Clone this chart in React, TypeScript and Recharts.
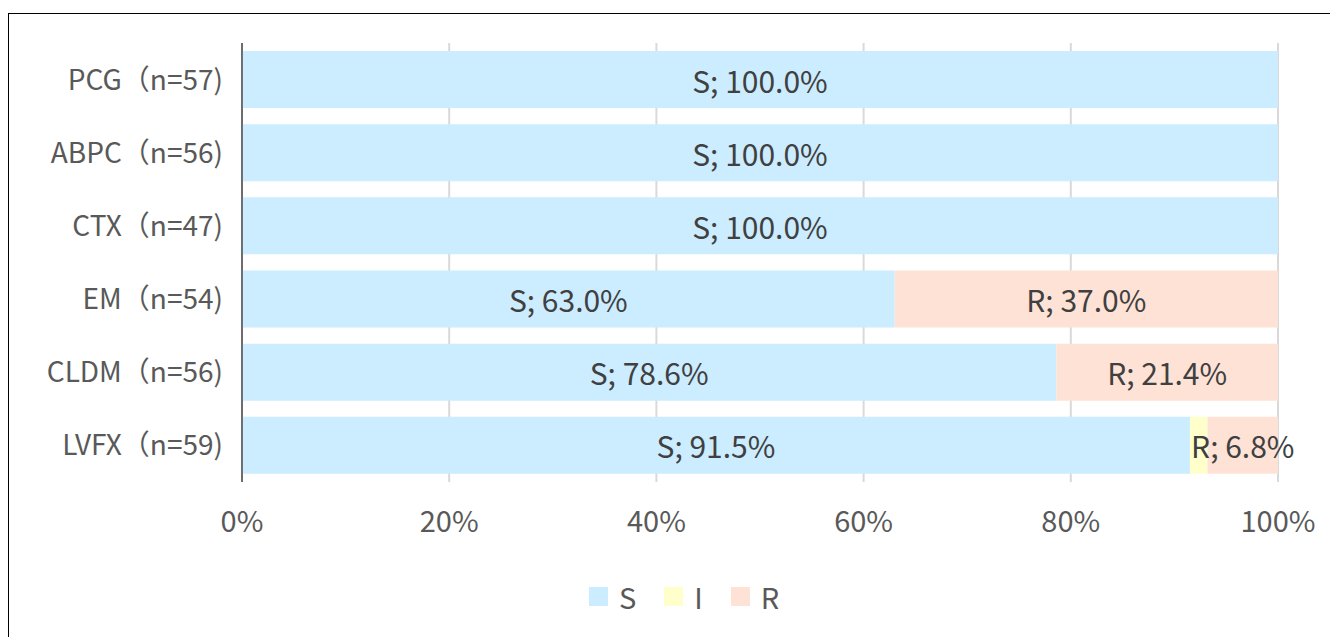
import React from 'react';
import { BarChart, Bar, XAxis, YAxis, CartesianGrid, Legend, LabelList } from 'recharts';

const categories = ['PCG（n=57)', 'ABPC（n=56)', 'CTX（n=47)', 'EM（n=54)', 'CLDM（n=56)', 'LVFX（n=59)'];
const sValues = [100.0, 100.0, 100.0, 63.0, 78.6, 91.5];
const iValues = [0, 0, 0, 0, 0, 1.7];
const rValues = [0, 0, 0, 37.0, 21.4, 6.8];
const xTicks = [0, 20, 40, 60, 80, 100];

const data = categories.map((name, i) => ({
  name,
  S: sValues[i],
  I: iValues[i],
  R: rValues[i],
}));

const FONT = '"Noto Sans CJK JP", "Noto Sans", sans-serif';
const TEXT = '#595959';

const makeLabel = (prefix: string) => (props: any) => {
  const { x, y, width, height, value } = props;
  if (!value) return null;
  return (
    <text
      x={x + width / 2}
      y={y + height / 2}
      textAnchor="middle"
      dominantBaseline="central"
      fill="#404040"
      fontSize={30}
      fontFamily={FONT}
    >
      {`${prefix}; ${Number(value).toFixed(1)}%`}
    </text>
  );
};

const renderLegend = () => {
  const items = [
    { key: 'S', color: '#CCECFF' },
    { key: 'I', color: '#FFFFCC' },
    { key: 'R', color: '#FFE2D6' },
  ];
  return (
    <div
      style={{
        display: 'flex',
        justifyContent: 'center',
        fontFamily: FONT,
        fontSize: 29,
        color: TEXT,
        lineHeight: '40px',
        paddingLeft: 20,
      }}
    >
      {items.map((it) => (
        <div key={it.key} style={{ display: 'flex', alignItems: 'center', margin: '0 14px' }}>
          <span style={{ width: 19, height: 19, background: it.color, display: 'inline-block', marginRight: 11 }} />
          <span>{it.key}</span>
        </div>
      ))}
    </div>
  );
};

export default function App() {
  return (
    <div
      style={{
        marginTop: 5,
        width: 1330,
        height: 624,
        borderTop: '1px solid #000',
        borderLeft: '1px solid #000',
        background: '#fff',
      }}
    >
      <BarChart
        width={1330}
        height={624}
        data={data}
        layout="vertical"
        barSize={57}
        margin={{ top: 29, right: 61, bottom: 46, left: 0 }}
      >
        <CartesianGrid horizontal={false} stroke="#d9d9d9" strokeWidth={2} />
        <XAxis
          type="number"
          domain={[0, 100]}
          ticks={xTicks}
          tickFormatter={(v) => `${v}%`}
          axisLine={false}
          tickLine={false}
          tick={{ fill: TEXT, fontSize: 29, fontFamily: FONT }}
          tickMargin={23}
          height={70}
        />
        <YAxis
          type="category"
          dataKey="name"
          width={233}
          axisLine={{ stroke: '#000', strokeWidth: 1 }}
          tickLine={false}
          tick={{ fill: TEXT, fontSize: 28, fontFamily: FONT }}
          tickMargin={13}
        />
        <Legend content={renderLegend} wrapperStyle={{ top: 562, left: 0, width: 1330 }} />
        <Bar dataKey="S" stackId="a" fill="#CCECFF" isAnimationActive={false}>
          <LabelList dataKey="S" content={makeLabel('S')} />
        </Bar>
        <Bar dataKey="I" stackId="a" fill="#FFFFCC" isAnimationActive={false} />
        <Bar dataKey="R" stackId="a" fill="#FFE2D6" isAnimationActive={false}>
          <LabelList dataKey="R" content={makeLabel('R')} />
        </Bar>
      </BarChart>
    </div>
  );
}
